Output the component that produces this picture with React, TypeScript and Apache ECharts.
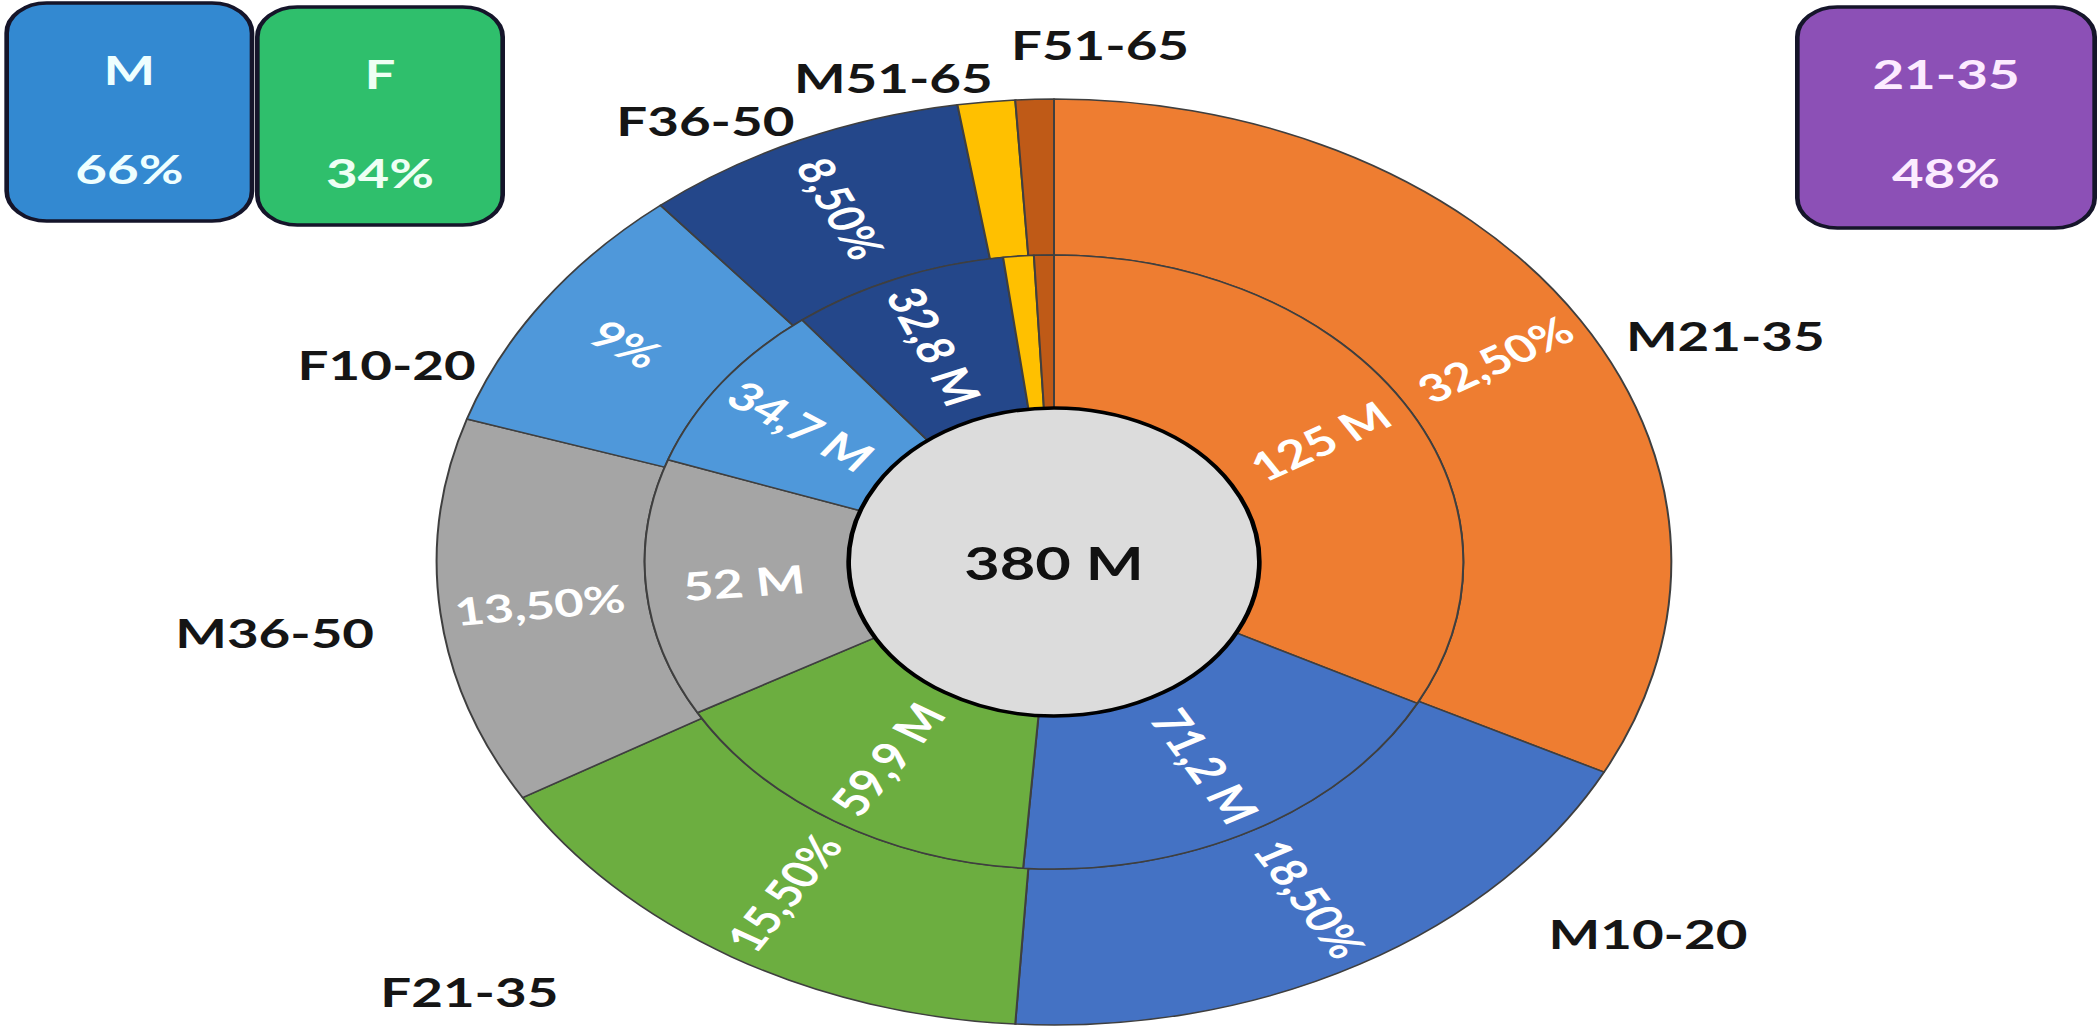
import React, { useEffect, useRef } from "react";
import * as echarts from "echarts";

// ---- data ----
const categories = ["M21-35", "M10-20", "F21-35", "M36-50", "F10-20", "F36-50", "M51-65", "F51-65"];
const populationMillions = [125, 71.2, 59.9, 52, 34.7, 32.8, 4.6, 3.0];
const sharePercent = [32.5, 18.5, 15.5, 13.5, 9, 8.5, 1.5, 1];
const totalMillions = 380;
const sliceColors = ["#EE7D31", "#4472C4", "#6CAE40", "#A5A5A5", "#4F98DA", "#24478A", "#FFC000", "#BF5A17"];
const summaryGroups = ["M", "F", "21-35"];

// ---- layout (unscaled chart space; the picture is stretched horizontally by 4/3) ----
const SX = 4 / 3;
const W = 2100 / SX;
const H = 1028;
const CX = 790.5;
const CY = 562;
const R_IN = 154;
const R_MID = 307;
const R_OUT = 463;
const FONT = "Lato, 'Open Sans', sans-serif";

const nameLabelSpots: [number, number][] = [
  [1294, 335],
  [1236, 933],
  [352, 991],
  [206, 632],
  [290, 364],
  [529, 120],
  [670, 77],
  [825, 44],
];

const fmtNum = (v: number) => (Number.isInteger(v) ? String(v) : v.toFixed(1).replace(".", ","));
const fmtPct = (v: number) => (Number.isInteger(v) ? v + "%" : v.toFixed(2).replace(".", ",") + "%");

function groupShare(g: string) {
  let s = 0;
  categories.forEach((c, i) => {
    if (g === "M" || g === "F" ? c.startsWith(g) : c.endsWith(g)) s += sharePercent[i];
  });
  return Math.round(s);
}

export default function App() {
  const ref = useRef<HTMLDivElement>(null);

  useEffect(() => {
    if (!ref.current) return;
    const chart = echarts.init(ref.current, undefined, { renderer: "svg" });

    const boxes = [
      { g: summaryGroups[0], x: 5, y: 3, w: 184, h: 218, fill: "#3389D1", tc: "#EEFFFF" },
      { g: summaryGroups[1], x: 193, y: 7, w: 184, h: 218, fill: "#2FBF6C", tc: "#EEFFF4" },
      { g: summaryGroups[2], x: 1348, y: 7, w: 223, h: 221, fill: "#8C50B6", tc: "#FCEBFF" },
    ];
    const graphic: any[] = [];
    boxes.forEach((b) => {
      graphic.push({
        type: "rect",
        shape: { x: b.x, y: b.y, width: b.w, height: b.h, r: 30 },
        style: { fill: b.fill, stroke: "#15152a", lineWidth: 3.5 },
      });
      graphic.push({
        type: "text",
        x: b.x + b.w / 2,
        y: b.y + 66,
        style: { text: b.g, fill: b.tc, fontSize: 41, fontWeight: "bold", fontFamily: FONT, align: "center", verticalAlign: "middle" },
      });
      graphic.push({
        type: "text",
        x: b.x + b.w / 2,
        y: b.y + 165,
        style: { text: groupShare(b.g) + "%", fill: b.tc, fontSize: 41, fontWeight: "bold", fontFamily: FONT, align: "center", verticalAlign: "middle" },
      });
    });

    const ringBorder = { borderColor: "#3f3f3f", borderWidth: 1.5 };

    chart.setOption({
      animation: false,
      backgroundColor: "#ffffff",
      graphic,
      series: [
        {
          type: "pie",
          name: "names",
          radius: [0, R_OUT],
          center: [CX, CY],
          startAngle: 90,
          clockwise: true,
          silent: true,
          z: 1,
          avoidLabelOverlap: false,
          emphasis: { disabled: true },
          data: categories.map((c, i) => ({ name: c, value: sharePercent[i] })),
          itemStyle: { color: "rgba(0,0,0,0)" },
          label: {
            show: true,
            position: "outside",
            formatter: "{b}",
            fontSize: 41,
            fontWeight: "bold",
            fontFamily: FONT,
            color: "#151515",
          },
          labelLine: { show: false },
          labelLayout: (p: any) => {
            const s = nameLabelSpots[p.dataIndex];
            return { x: s[0], y: s[1], align: "center", verticalAlign: "middle" };
          },
        },
        {
          type: "pie",
          name: "share",
          radius: [R_MID, R_OUT],
          center: [CX, CY],
          startAngle: 90,
          clockwise: true,
          silent: true,
          z: 2,
          avoidLabelOverlap: false,
          emphasis: { disabled: true },
          data: categories.map((c, i) => ({
            name: c,
            value: sharePercent[i],
            itemStyle: { color: sliceColors[i] },
            label: { show: sharePercent[i] >= 5 },
          })),
          itemStyle: ringBorder,
          label: {
            position: "inside",
            rotate: "radial",
            formatter: (p: any) => fmtPct(p.value),
            fontSize: 38,
            fontWeight: "bold",
            fontFamily: FONT,
            color: "#ffffff",
            textBorderWidth: 0,
          },
          labelLine: { show: false },
        },
        {
          type: "pie",
          name: "population",
          radius: [R_IN, R_MID],
          center: [CX, CY],
          startAngle: 90,
          clockwise: true,
          silent: true,
          z: 3,
          avoidLabelOverlap: false,
          emphasis: { disabled: true },
          data: categories.map((c, i) => ({
            name: c,
            value: populationMillions[i],
            itemStyle: { color: sliceColors[i] },
            label: { show: populationMillions[i] >= 10 },
          })),
          itemStyle: ringBorder,
          label: {
            position: "inside",
            rotate: "radial",
            formatter: (p: any) => fmtNum(p.value) + " M",
            fontSize: 39,
            fontWeight: "bold",
            fontFamily: FONT,
            color: "#ffffff",
            textBorderWidth: 0,
          },
          labelLine: { show: false },
        },
        {
          type: "pie",
          name: "total",
          radius: [0, R_IN],
          center: [CX, CY],
          silent: true,
          z: 4,
          emphasis: { disabled: true },
          data: [{ name: "Total", value: totalMillions }],
          itemStyle: { color: "#DCDCDC", borderColor: "#000000", borderWidth: 3.5 },
          label: {
            position: "center",
            formatter: () => fmtNum(totalMillions) + " M",
            fontSize: 46,
            fontWeight: "bold",
            fontFamily: FONT,
            color: "#111111",
          },
          labelLine: { show: false },
        },
      ],
    });

    return () => chart.dispose();
  }, []);

  return (
    <div style={{ position: "fixed", left: 0, top: 0, width: 2100, height: H, overflow: "hidden", background: "#fff" }}>
      <div
        ref={ref}
        style={{ width: W, height: H, transform: `scaleX(${SX})`, transformOrigin: "0 0" }}
      />
    </div>
  );
}
